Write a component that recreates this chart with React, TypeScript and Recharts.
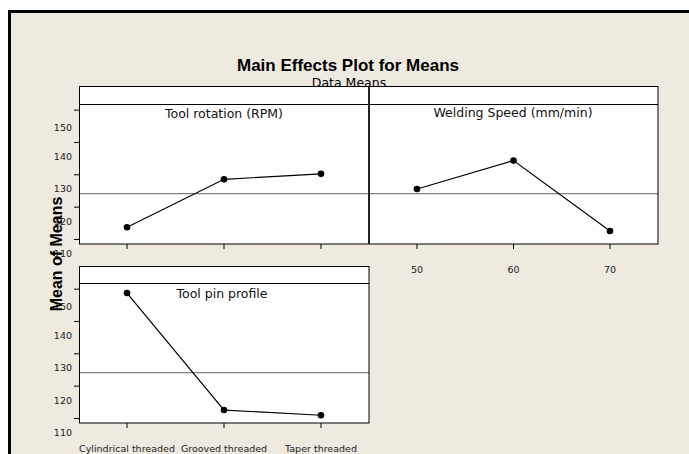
import React from 'react';
import { LineChart, Line, XAxis, YAxis, ReferenceLine } from 'recharts';

// level means
const rotationLevels = ['Level 1', 'Level 2', 'Level 3'];
const rotationMeans = [113.8, 128.6, 130.3];
const speedLevels = ['50', '60', '70'];
const speedMeans = [125.6, 134.4, 112.6];
const pinLevels = ['Cylindrical threaded', 'Grooved threaded', 'Taper threaded'];
const pinMeans = [148.8, 112.6, 111.0];
const grandMean = 124.2;
const yTicks = [110, 120, 130, 140, 150];
const yDomain = [108.6, 151.9];

const BEIGE = '#EEEAE0';
const FONT = 'DejaVu Sans';

const toRows = (levels: string[], means: number[]) =>
  levels.map((level, i) => ({ level, mean: means[i] }));

function YTick({ x, y, payload }: any) {
  return (
    <text x={x} y={y + 17.5} textAnchor="end" fontSize={9.5} fontFamily={FONT} fill="#222">
      {payload.value}
    </text>
  );
}

function XTick({ x, y, payload }: any) {
  return (
    <text x={x} y={y + 22} textAnchor="middle" fontSize={9.5} fontFamily={FONT} fill="#222">
      {payload.value}
    </text>
  );
}

const NoTick = () => <g />;

interface PanelProps {
  rows: { level: string; mean: number }[];
  width: number;
  height: number;
  axisHeight: number;
  showY: boolean;
  showXLabels: boolean;
}

function EffectPanel({ rows, width, height, axisHeight, showY, showXLabels }: PanelProps) {
  return (
    <LineChart width={width} height={height} data={rows} margin={{ top: 0, right: 11, bottom: 0, left: 0 }}>
      <XAxis
        dataKey="level"
        height={axisHeight}
        padding={{ left: 48, right: 48 }}
        axisLine={false}
        tickSize={5}
        tickMargin={2}
        tickLine={{ stroke: '#000' }}
        interval={0}
        tick={showXLabels ? <XTick /> : <NoTick />}
      />
      <YAxis
        type="number"
        domain={yDomain}
        ticks={yTicks}
        allowDataOverflow
        hide={!showY}
        width={showY ? 79 : 0}
        axisLine={false}
        tickSize={5}
        tickMargin={2}
        tickLine={{ stroke: '#000' }}
        tick={<YTick />}
      />
      <ReferenceLine y={grandMean} stroke="#808080" strokeWidth={1.2} />
      <Line
        type="linear"
        dataKey="mean"
        stroke="#000"
        strokeWidth={1.2}
        dot={{ r: 3.3, fill: '#000', stroke: '#000', strokeWidth: 0 }}
        isAnimationActive={false}
      />
    </LineChart>
  );
}

export default function App() {
  return (
    <div style={{ position: 'absolute', left: 0, top: 0, width: 689, height: 454, background: '#fff', overflow: 'hidden' }}>
      <div
        style={{
          position: 'absolute', left: 8, top: 10, width: 720, height: 480,
          border: '3px solid #000', background: BEIGE,
        }}
      />
      <svg width={689} height={454} style={{ position: 'absolute', left: 0, top: 0 }}>
        <rect x={79} y={86} width={579} height={158} fill="#fff" />
        <rect x={79} y={266} width={290} height={157} fill="#fff" />
      </svg>

      <div style={{ position: 'absolute', left: 0, top: 104 }}>
        <EffectPanel rows={toRows(rotationLevels, rotationMeans)} width={380} height={180} axisHeight={40} showY showXLabels={false} />
      </div>
      <div style={{ position: 'absolute', left: 369, top: 104 }}>
        <EffectPanel rows={toRows(speedLevels, speedMeans)} width={300} height={180} axisHeight={40} showY={false} showXLabels />
      </div>
      <div style={{ position: 'absolute', left: 0, top: 283 }}>
        <EffectPanel rows={toRows(pinLevels, pinMeans)} width={380} height={171} axisHeight={31} showY showXLabels />
      </div>

      <svg width={689} height={454} style={{ position: 'absolute', left: 0, top: 0, pointerEvents: 'none' }}>
        <rect x={79.5} y={86.5} width={578.5} height={157.5} fill="none" stroke="#000" />
        <line x1={79} x2={658} y1={104.5} y2={104.5} stroke="#000" />
        <line x1={369} x2={369} y1={86} y2={244} stroke="#222" strokeWidth={2} />
        <rect x={79.5} y={266.5} width={289.5} height={156.5} fill="none" stroke="#000" />
        <line x1={79} x2={369} y1={283.5} y2={283.5} stroke="#000" />

        <text x={348} y={71} textAnchor="middle" fontFamily="Liberation Sans" fontWeight="bold" fontSize={17} fill="#000">
          Main Effects Plot for Means
        </text>
        <text x={349} y={87} textAnchor="middle" fontFamily={FONT} fontSize={12.5} fill="#000">
          Data Means
        </text>

        <text x={224} y={117.5} textAnchor="middle" fontFamily={FONT} fontSize={12.5} fill="#111">
          {panelTitle(0)}
        </text>
        <text x={513} y={117} textAnchor="middle" fontFamily={FONT} fontSize={12.5} fill="#111">
          {panelTitle(1)}
        </text>
        <text x={222} y={298} textAnchor="middle" fontFamily={FONT} fontSize={12.5} fill="#111">
          {panelTitle(2)}
        </text>

        <text
          x={62}
          y={254}
          transform="rotate(-90, 62, 254)"
          textAnchor="middle"
          fontFamily="Liberation Sans"
          fontWeight="bold"
          fontSize={16}
          fill="#000"
        >
          Mean of Means
        </text>
      </svg>
    </div>
  );
}

const panelTitles = ['Tool rotation (RPM)', 'Welding Speed (mm/min)', 'Tool pin profile'];
function panelTitle(i: number) {
  return panelTitles[i];
}
